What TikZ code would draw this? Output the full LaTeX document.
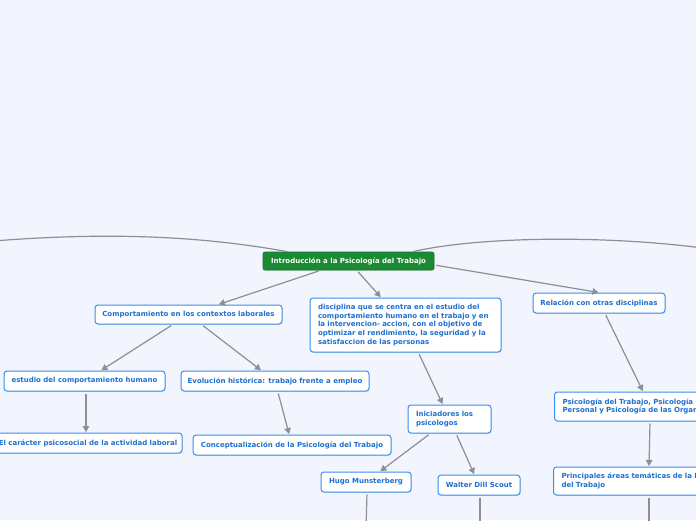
\documentclass[tikz,border=0pt]{standalone}
\usepackage{fontspec}
\newfontfamily\boxfont{DejaVu Sans}
\usetikzlibrary{arrows.meta,shadows,calc}
\definecolor{bgcol}{HTML}{F2F5FE}
\definecolor{bordercol}{HTML}{3A8EF0}
\definecolor{txtcol}{HTML}{1F6FD0}
\definecolor{greencol}{HTML}{1B8A32}
\definecolor{linecol}{HTML}{8E8E96}
\tikzset{
  topic/.style={rectangle, rounded corners=3pt, draw=bordercol, line width=1pt, fill=white,
    text=txtcol, font=\boxfont\bfseries\fontsize{7}{8.6}\selectfont, inner sep=0pt,
    drop shadow={shadow xshift=0.6pt, shadow yshift=-0.9pt, opacity=0.22}},
  multi/.style={inner xsep=8pt, inner ysep=0pt, align=left},
  central/.style={rectangle, rounded corners=2pt, draw=greencol!85!black, line width=0.6pt, fill=greencol,
    text=white, font=\boxfont\bfseries\fontsize{7}{8.6}\selectfont, inner sep=0pt,
    drop shadow={shadow xshift=0.6pt, shadow yshift=-0.9pt, opacity=0.22}},
  link/.style={draw=linecol, line width=1.2pt, -{Triangle[length=6pt,width=6.5pt]}, shorten <=2pt, shorten >=0.5pt},
  plain/.style={draw=linecol, line width=1.2pt}
}
\begin{document}
\begin{tikzpicture}[x=1pt,y=-1pt]
\fill[bgcol] (0,0) rectangle (696,520);
\useasboundingbox (0,0) rectangle (696,520);

% nodes
\node[central, minimum width=171pt, minimum height=18pt] (root) at (348.5,261) {Introducción a la Psicología del Trabajo};
\node[topic, minimum width=187pt, minimum height=19pt] (comp) at (188.5,314.5) {Comportamiento en los contextos laborales};
\node[topic, multi, text width=175pt, minimum height=54pt] (disc) at (405.5,325) {disciplina que se centra en el estudio del\\comportamiento humano en el trabajo y en\\la intervencion- accion, con el objetivo de\\optimizar el rendimiento, la seguridad y la\\satisfaccion de las personas};
\node[topic, minimum width=132pt, minimum height=20pt] (rel) at (599,303) {Relación con otras disciplinas};
\node[topic, minimum width=161pt, minimum height=20pt] (est) at (84.5,381) {estudio del comportamiento humano};
\node[topic, minimum width=188pt, minimum height=20pt] (evol) at (275,381) {Evolución histórica: trabajo frente a empleo};
\node[topic, minimum width=188pt, minimum height=20pt] (car) at (88,443) {El carácter psicosocial de la actividad laboral};
\node[topic, minimum width=198pt, minimum height=20pt] (conc) at (292,445) {Conceptualización de la Psicología del Trabajo};
\node[topic, multi, text width=67pt, minimum height=28pt] (inic) at (449.5,419) {Iniciadores los\\psicologos};
\node[topic, minimum width=90pt, minimum height=20pt] (hugo) at (366,482) {Hugo Munsterberg};
\node[topic, minimum width=82pt, minimum height=20pt] (walt) at (479,485) {Walter Dill Scout};
\node[topic, multi, text width=184pt, minimum height=29pt, anchor=west] (psi) at (554,406.5) {Psicología del Trabajo, Psicología del\\Personal y Psicología de las Organizaciones};
\node[topic, multi, text width=184pt, minimum height=28pt, anchor=west] (princ) at (553,481) {Principales áreas temáticas de la Psicología\\del Trabajo};

% free ends
\coordinate (leftend) at (-30,243);
\coordinate (rightend) at (730,252);
\coordinate (hugoend) at (366,530);
\coordinate (waltend) at (480,530);
\coordinate (princend) at (649,530);

% connectors
\draw[plain] ($(root.north west)+(25,0)$) .. controls (190,234) and (90,232) .. (leftend);
\draw[plain] ($(root.north west)+(150,0)$) .. controls (480,236) and (620,234) .. (rightend);
\draw[link] (root) -- (comp);
\draw[link] (root) -- (disc);
\draw[link] ([yshift=-4pt]root.east) -- (rel.north);
\draw[link] (comp) -- (est);
\draw[link] (comp) -- (evol);
\draw[link] ($(est.south)+(1.5,0)$) -- ($(car.north)+(-2,0)$);
\draw[link] (evol) -- (conc);
\draw[link] (disc) -- (inic);
\draw[link] (inic) -- (hugo);
\draw[link] (inic) -- (walt);
\draw[link] ($(rel.south)+(6,0)$) -- ($(psi.north west)+(89,0)$);
\draw[link] ($(psi.south west)+(96,0)$) -- ($(princ.north west)+(96,0)$);
\draw[plain, shorten <=2pt] ($(hugo.south)+(1,0)$) -- (hugoend);
\draw[plain, shorten <=2pt] ($(walt.south)+(1,0)$) -- (waltend);
\draw[plain, shorten <=2pt] ($(princ.south west)+(96,0)$) -- (princend);
\end{tikzpicture}
\end{document}
